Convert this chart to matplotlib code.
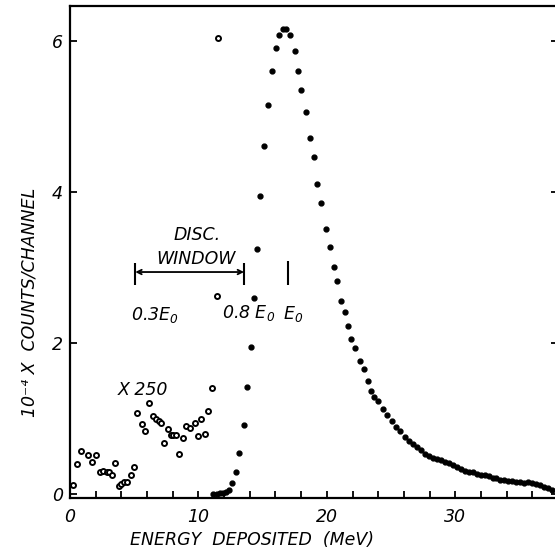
import matplotlib
matplotlib.use("Agg")
import matplotlib.pyplot as plt
from matplotlib.ticker import MultipleLocator

# x250 scaled low-energy part (MeV, 10^-4 counts/channel)
x250_energy = [0.2, 0.54, 0.83, 1.43, 1.74, 2.02, 2.33, 2.6, 2.85, 3.03, 3.24, 3.5,
               3.84, 4.0, 4.23, 4.46, 4.72, 5.0, 5.24, 5.6, 5.86, 6.12, 6.46, 6.72,
               6.93, 7.06, 7.32, 7.6, 7.86, 8.04, 8.25, 8.51, 8.77, 9.0, 9.34, 9.73,
               9.96, 10.2, 10.53, 10.77, 11.07, 11.41, 11.54]
x250_counts = [0.12, 0.40, 0.57, 0.52, 0.43, 0.52, 0.29, 0.31, 0.30, 0.29, 0.26, 0.41,
               0.11, 0.14, 0.16, 0.16, 0.25, 0.36, 1.08, 0.93, 0.83, 1.21, 1.04, 0.99,
               0.97, 0.94, 0.68, 0.86, 0.78, 0.78, 0.78, 0.53, 0.75, 0.90, 0.88, 0.94,
               0.77, 1.00, 0.80, 1.10, 1.40, 2.62, 6.04]

# main spectrum
energy = [11.15, 11.41, 11.67, 11.93, 12.17, 12.4, 12.63, 12.92, 13.18, 13.52, 13.8,
          14.06, 14.34, 14.6, 14.81, 15.1, 15.41, 15.7, 16.03, 16.29, 16.58, 16.85,
          17.17, 17.49, 17.74, 18.0, 18.39, 18.68, 18.99, 19.27, 19.57, 19.92, 20.21,
          20.52, 20.8, 21.11, 21.38, 21.66, 21.92, 22.23, 22.57, 22.86, 23.17, 23.45,
          23.71, 24.02, 24.36, 24.69, 25.06, 25.37, 25.7, 26.05, 26.4, 26.72, 27.03,
          27.34, 27.65, 27.94, 28.25, 28.56, 28.87, 29.18, 29.49, 29.8, 30.11, 30.42,
          30.73, 31.04, 31.35, 31.66, 31.97, 32.28, 32.59, 32.9, 33.21, 33.52, 33.83,
          34.14, 34.45, 34.76, 35.07, 35.38, 35.69, 36.0, 36.31, 36.62, 36.93, 37.24,
          37.55]
counts = [0.0, 0.0, 0.01, 0.02, 0.03, 0.05, 0.15, 0.30, 0.55, 0.92, 1.42,
          1.95, 2.60, 3.25, 3.95, 4.61, 5.15, 5.60, 5.91, 6.07, 6.16, 6.16,
          6.07, 5.86, 5.60, 5.35, 5.06, 4.72, 4.46, 4.11, 3.85, 3.51, 3.27,
          3.01, 2.82, 2.56, 2.41, 2.22, 2.06, 1.93, 1.76, 1.66, 1.50, 1.36,
          1.29, 1.23, 1.13, 1.05, 0.97, 0.89, 0.83, 0.76, 0.71, 0.66, 0.62,
          0.58, 0.53, 0.50, 0.48, 0.46, 0.45, 0.43, 0.41, 0.39, 0.36, 0.34,
          0.31, 0.30, 0.29, 0.27, 0.26, 0.25, 0.24, 0.22, 0.21, 0.19, 0.19,
          0.18, 0.17, 0.16, 0.16, 0.15, 0.16, 0.15, 0.13, 0.12, 0.10, 0.08,
          0.06]

E0 = 16.94
win_lo, win_hi = 0.3 * E0, 0.8 * E0

plt.rcParams["mathtext.fontset"] = "custom"
plt.rcParams["mathtext.it"] = "DejaVu Sans:italic"
plt.rcParams["mathtext.rm"] = "DejaVu Sans:italic"

txt = dict(family="DejaVu Sans", style="italic", fontsize=12.5, color="black")

fig = plt.figure(figsize=(5.55, 5.56), dpi=100)
ax = fig.add_axes([70 / 555, 58 / 556, 488 / 555, 492 / 556])

ax.plot(x250_energy, x250_counts, "o", ms=3.6, mfc="white", mec="black", mew=1.4)
ax.plot(energy, counts, "o", ms=3.5, color="black")

ax.set_xlim(0, 38)
ax.set_ylim(-0.05, 6.46)

# discriminator window
ax.annotate("", xy=(win_lo, 2.94), xytext=(win_hi, 2.94),
            arrowprops=dict(arrowstyle="<->", lw=1.3, color="black",
                            mutation_scale=8, shrinkA=0, shrinkB=0))
ax.vlines([win_lo, win_hi], 2.77, 3.06, color="black", lw=1.5)
ax.vlines([E0], 2.77, 3.08, color="black", lw=1.5)

ax.text(9.9, 3.43, "DISC.", ha="center", va="center", **txt)
ax.text(9.8, 3.11, "WINDOW", ha="center", va="center", **txt)
ax.text(6.6, 2.37, r"0.3E$_{0}$", ha="center", va="center", **txt)
ax.text(13.9, 2.40, r"0.8 E$_{0}$", ha="center", va="center", **txt)
ax.text(17.4, 2.38, r"E$_{0}$", ha="center", va="center", **txt)
ax.text(5.7, 1.38, "X 250", ha="center", va="center", **txt)

ax.xaxis.set_major_locator(MultipleLocator(10))
ax.xaxis.set_minor_locator(MultipleLocator(2))
ax.yaxis.set_major_locator(MultipleLocator(2))
ax.tick_params(axis="both", which="both", direction="in", length=5, width=1.3,
               pad=7, right=True, top=False)
ax.tick_params(axis="y", pad=5)
for lab in ax.get_xticklabels() + ax.get_yticklabels():
    lab.set_fontstyle("italic")
    lab.set_fontsize(12.5)

for side in ["left", "bottom", "top"]:
    ax.spines[side].set_linewidth(1.6)
ax.spines["right"].set_visible(False)

ax.set_xlabel("ENERGY  DEPOSITED  (MeV)", **txt)
ax.xaxis.set_label_coords(0.373, -0.085)
ax.xaxis.label.set_va("center")
ax.set_ylabel("10⁻⁴ X  COUNTS/CHANNEL", **txt)
ax.yaxis.set_label_coords(-0.082, 0.398)
ax.yaxis.label.set_va("center")

fig.savefig("out.png", dpi=100)
